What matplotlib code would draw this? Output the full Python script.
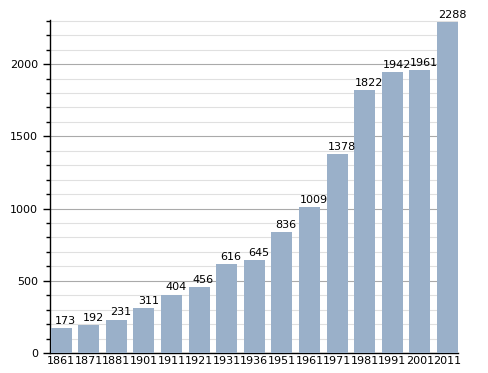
import matplotlib
matplotlib.use('Agg')
import matplotlib.pyplot as plt
from matplotlib.ticker import MultipleLocator

years = ['1861', '1871', '1881', '1901', '1911', '1921', '1931', '1936',
         '1951', '1961', '1971', '1981', '1991', '2001', '2011']
population = [173, 192, 231, 311, 404, 456, 616, 645,
              836, 1009, 1378, 1822, 1942, 1961, 2288]

plt.rcParams['font.family'] = ['DejaVu Sans']
plt.rcParams['font.size'] = 8

fig = plt.figure(figsize=(4.88, 3.73), dpi=100)
ax = fig.add_axes([0.1025, 0.0536, 0.836, 0.8924])

x = range(len(years))
ax.bar(x, population, width=0.76, color='#9ab0c9', zorder=3)
# valeurs au-dessus des barres, un peu décalées à droite comme l'original
for xi, v in zip(x, population):
    ax.text(xi + 0.16, v + 15, str(v), ha='center', va='bottom', fontsize=8, zorder=4)

# les barres touchent presque les bords de l'axe
ax.set_xlim(-0.40, len(years) - 1 + 0.38)
ax.set_ylim(0, 2304)
ax.set_xticks(list(x))
ax.set_xticklabels(years)
ax.tick_params(axis='x', length=0, pad=2)

ax.yaxis.set_major_locator(MultipleLocator(500))
ax.yaxis.set_minor_locator(MultipleLocator(100))
ax.tick_params(axis='y', which='major', length=5, width=1, direction='out')
ax.tick_params(axis='y', which='minor', length=3, width=1, direction='out')
ax.grid(axis='y', which='minor', color='#e0e0e0', linewidth=0.8, zorder=0)
ax.grid(axis='y', which='major', color='#aaaaaa', linewidth=0.8, zorder=1)

for s in ['top', 'right']:
    ax.spines[s].set_visible(False)
ax.spines['left'].set_linewidth(1)
ax.spines['bottom'].set_linewidth(1)

fig.savefig('out.png', dpi=100)
